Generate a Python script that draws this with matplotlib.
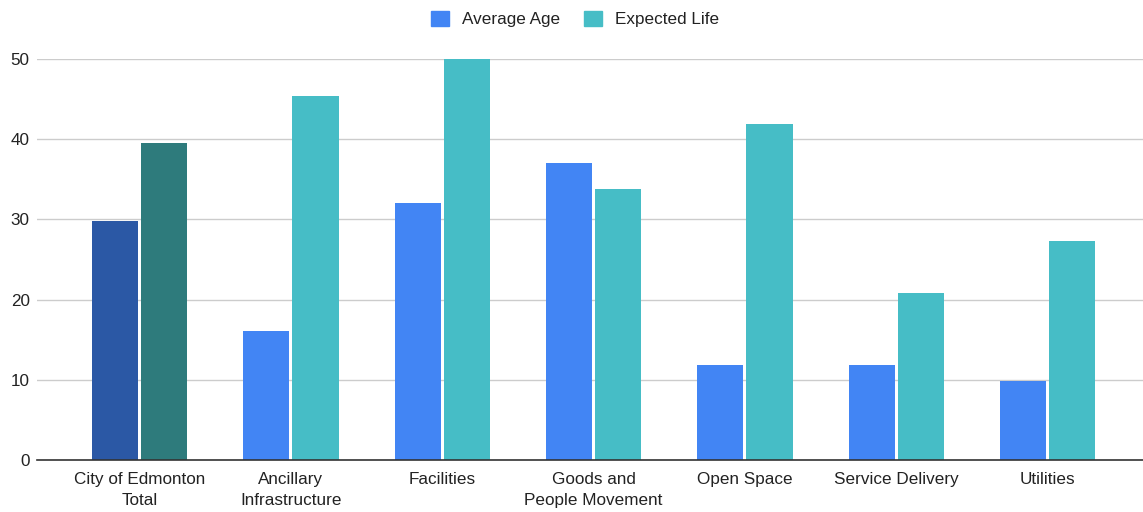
import matplotlib
matplotlib.use("Agg")
import matplotlib.pyplot as plt
import numpy as np
from matplotlib.patches import Patch

plt.rcParams['font.family'] = ['Liberation Sans', 'DejaVu Sans']

categories = ["City of Edmonton\nTotal", "Ancillary\nInfrastructure", "Facilities",
              "Goods and\nPeople Movement", "Open Space", "Service Delivery", "Utilities"]
average_age = [29.8, 16.1, 32.0, 37.0, 11.8, 11.8, 9.9]
expected_life = [39.5, 45.4, 50.0, 33.8, 41.9, 20.8, 27.3]

age_color = "#4285F4"
life_color = "#46BDC6"
age_total_color = "#2B58A5"
life_total_color = "#2E7B7C"

fig = plt.figure(figsize=(11.43, 5.12), dpi=100)
ax = fig.add_axes([0.032, 0.1016, 0.968, 0.7832])

x = np.arange(len(categories))
w = 0.305
gap = 0.01
age_colors = [age_total_color] + [age_color] * (len(categories) - 1)
life_colors = [life_total_color] + [life_color] * (len(categories) - 1)
ax.bar(x - w / 2 - gap, average_age, w, color=age_colors, zorder=3)
ax.bar(x + w / 2 + gap, expected_life, w, color=life_colors, zorder=3)

ax.set_xlim(-0.68, 6.63)
ax.set_ylim(0, 50)
ax.set_yticks(range(0, 51, 10))
ax.set_xticks(x)
ax.set_xticklabels(categories, fontsize=12.3, color="#222222", linespacing=1.45)
ax.tick_params(axis="y", labelsize=12.3, colors="#222222", length=0, pad=5)
ax.tick_params(axis="x", length=0, pad=9)
ax.grid(axis="y", color="#cccccc", linewidth=1, zorder=0)
for s in ["top", "right", "left"]:
    ax.spines[s].set_visible(False)
ax.spines["bottom"].set_color("#333333")
ax.spines["bottom"].set_linewidth(1.2)
ax.spines["bottom"].set_zorder(4)

handles = [Patch(color=age_color, label="Average Age"),
           Patch(color=life_color, label="Expected Life")]
fig.legend(handles=handles, loc="center", bbox_to_anchor=(0.503, 0.963), ncol=2,
           frameon=False, fontsize=12.3, handlelength=1.05, handleheight=1.05,
           columnspacing=1.4, handletextpad=0.75, labelcolor="#222222")

fig.savefig("out.png", dpi=100)
